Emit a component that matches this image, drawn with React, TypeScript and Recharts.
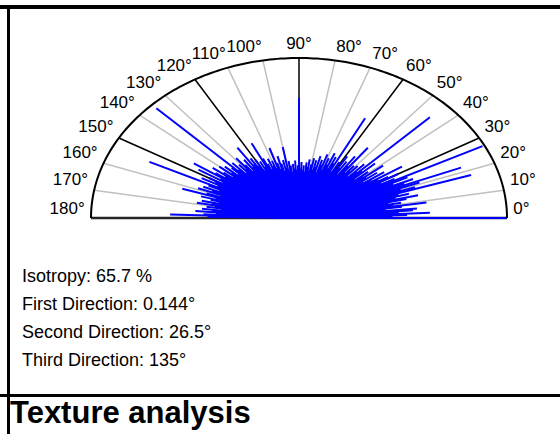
import React from "react";
import { ScatterChart, Scatter, XAxis, YAxis, ReferenceLine, ReferenceDot } from "recharts";

// 1° bins of the orientation histogram (0..179°)
const DEGREES = Array.from({ length: 180 }, (_, i) => i);

// relative ray length per bin
const RAY_LENGTHS = [
  1.0, 0.45, 0.52, 0.63, 0.48, 0.55, 0.57, 0.42, 0.5, 0.62,
  0.46, 0.5, 0.44, 0.53, 0.59, 0.48, 0.55, 0.5, 0.87, 0.59,
  0.52, 0.62, 0.84, 0.55, 0.6, 0.5, 0.58, 0.99, 0.52, 0.45,
  0.55, 0.5, 0.45, 0.59, 0.42, 0.5, 0.38, 0.47, 0.41, 0.52,
  0.4, 0.44, 0.36, 0.5, 0.42, 0.89, 0.4, 0.46, 0.35, 0.43,
  0.38, 0.42, 0.36, 0.55, 0.4, 0.47, 0.33, 0.42, 0.37, 0.45,
  0.35, 0.4, 0.33, 0.7, 0.38, 0.42, 0.34, 0.44, 0.36, 0.4,
  0.32, 0.42, 0.35, 0.38, 0.3, 0.4, 0.33, 0.37, 0.31, 0.38,
  0.34, 0.3, 0.37, 0.32, 0.35, 0.29, 0.33, 0.3, 0.35, 0.31,
  0.75, 0.33, 0.3, 0.36, 0.31, 0.34, 0.29, 0.33, 0.36, 0.3,
  0.45, 0.32, 0.37, 0.3, 0.35, 0.4, 0.32, 0.36, 0.46, 0.33,
  0.38, 0.35, 0.4, 0.33, 0.37, 0.41, 0.52, 0.36, 0.4, 0.34,
  0.42, 0.38, 0.44, 0.4, 0.53, 0.39, 0.45, 0.37, 0.42, 0.48,
  0.4, 0.44, 0.38, 0.47, 0.42, 0.97, 0.45, 0.4, 0.48, 0.43,
  0.5, 0.41, 0.46, 0.52, 0.44, 0.49, 0.61, 0.45, 0.57, 0.43,
  0.5, 0.46, 0.53, 0.44, 0.8, 0.48, 0.42, 0.5, 0.45, 0.52,
  0.4, 0.47, 0.59, 0.42, 0.49, 0.44, 0.4, 0.48, 0.43, 0.5,
  0.41, 0.45, 0.38, 0.47, 0.42, 0.5, 0.4, 0.46, 0.62, 0.44,
];

const LABEL_ANGLES = [0, 10, 20, 30, 40, 50, 60, 70, 80, 90, 100, 110, 120, 130, 140, 150, 160, 170, 180];
const MAJOR_SPOKES = [0, 30, 60, 90, 120, 150, 180];
const MINOR_SPOKES = [10, 20, 40, 50, 70, 80, 100, 110, 130, 140, 160, 170];
const ARC_STEPS = Array.from({ length: 181 }, (_, i) => i);

const STATS = [
  "Isotropy: 65.7 %",
  "First Direction: 0.144°",
  "Second Direction: 26.5°",
  "Third Direction: 135°",
];
const TITLE = "Texture analysis";

const FONT = "'Liberation Sans', Arial, sans-serif";
const C_RAY = "#0000FF";
const C_MINOR = "#C0C0C0";

const toXY = (deg: number, r: number) => ({
  x: r * Math.cos((deg * Math.PI) / 180),
  y: r * Math.sin((deg * Math.PI) / 180),
});

const arcData = ARC_STEPS.map((d) => toXY(d, 1));

function AngleLabel({ cx, cy, deg }: any) {
  const anchor = deg === 90 ? "middle" : deg < 90 ? "start" : "end";
  // labels sit just outside the rim, lifted a little
  return (
    <text x={cx} y={cy - 4} textAnchor={anchor} fontSize={17} fontFamily={FONT} fill="#000">
      {deg}°
    </text>
  );
}

export default function App() {
  return (
    <div style={{ position: "absolute", left: 0, top: 0, width: 560, height: 434, background: "#fff", overflow: "hidden" }}>
      <div style={{ position: "absolute", left: 0, top: 5, width: 560, height: 4, background: "#000" }} />
      <div style={{ position: "absolute", left: 7, top: 5, width: 3, height: 429, background: "#000" }} />
      <div style={{ position: "absolute", left: 0, top: 394, width: 560, height: 3, background: "#000" }} />

      <div style={{ position: "absolute", left: 0, top: 0 }}>
        <ScatterChart width={560} height={260} margin={{ top: 58, right: 53, bottom: 42, left: 91 }}>
          <XAxis type="number" dataKey="x" domain={[-1, 1]} hide />
          <YAxis type="number" dataKey="y" domain={[0, 1]} hide />

          {MINOR_SPOKES.map((d) => (
            <ReferenceLine key={"m" + d} segment={[{ x: 0, y: 0 }, toXY(d, 1)]} stroke={C_MINOR} strokeWidth={1.5} ifOverflow="visible" />
          ))}
          {MAJOR_SPOKES.map((d) => (
            <ReferenceLine key={"M" + d} segment={[{ x: 0, y: 0 }, toXY(d, 1)]} stroke="#000" strokeWidth={1.5} ifOverflow="visible" />
          ))}
          <ReferenceLine segment={[{ x: -1, y: 0 }, { x: 1, y: 0 }]} stroke="#262626" strokeWidth={2.5} ifOverflow="visible" />

          {DEGREES.map((d, i) => (
            <ReferenceLine key={"r" + d} segment={[{ x: 0, y: 0 }, toXY(d, RAY_LENGTHS[i])]} stroke={C_RAY} strokeWidth={2} ifOverflow="visible" />
          ))}

          <Scatter data={arcData} isAnimationActive={false} line={{ stroke: "#000", strokeWidth: 2 }} shape={() => <g />} />

          {LABEL_ANGLES.map((d) => {
            const p = toXY(d, 1);
            return (
              <ReferenceDot
                key={"l" + d}
                x={p.x * 1.03}
                y={p.y * 1.03}
                r={0}
                ifOverflow="visible"
                shape={(props: any) => <AngleLabel cx={props.cx} cy={props.cy} deg={d} />}
              />
            );
          })}
        </ScatterChart>
      </div>

      <svg width={560} height={434} style={{ position: "absolute", left: 0, top: 0, pointerEvents: "none" }}>
        {STATS.map((s, i) => (
          <text key={s} x={22} y={282 + i * 28} fontSize={18} fontFamily={FONT} fill="#000">
            {s}
          </text>
        ))}
        <text x={10} y={423} fontSize={31} fontWeight="bold" fontFamily={FONT} fill="#000">
          {TITLE}
        </text>
      </svg>
    </div>
  );
}
